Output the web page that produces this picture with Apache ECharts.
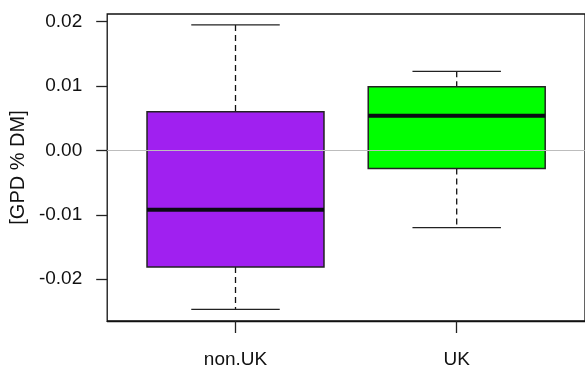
<!DOCTYPE html>
<html>
<head>
<meta charset="utf-8">
<script src="https://cdn.jsdelivr.net/npm/echarts@6/dist/echarts.min.js"></script>
<style>
  html, body { margin: 0; padding: 0; background: #fff; }
  #chart { width: 585px; height: 369px; }
</style>
</head>
<body>
<div id="chart"></div>
<script>
// Groups and their five-number summaries (lower whisker, Q1, median, Q3, upper whisker)
const groups = ['non.UK', 'UK'];
const lowerWhisker = [-0.0247, -0.0120];
const q1 = [-0.0181, -0.0028];
const median = [-0.0092, 0.0054];
const q3 = [0.0060, 0.0099];
const upperWhisker = [0.0195, 0.0123];
const fills = ['#A020F0', '#00FF00'];
const yTicks = [-0.02, -0.01, 0, 0.01, 0.02];
const xTicks = [1, 2];

const BOX_WIDTH = 0.8;   // in x-axis units
const CAP_WIDTH = 0.4;

const seriesData = groups.map((g, i) => [i + 1, lowerWhisker[i], q1[i], median[i], q3[i], upperWhisker[i]]);

function renderBox(params, api) {
  const x = api.value(0);
  const lo = api.value(1), a = api.value(2), m = api.value(3), b = api.value(4), hi = api.value(5);
  const pLeft = api.coord([x - BOX_WIDTH / 2, b]);
  const pRight = api.coord([x + BOX_WIDTH / 2, a]);
  const cL = api.coord([x - CAP_WIDTH / 2, 0])[0];
  const cR = api.coord([x + CAP_WIDTH / 2, 0])[0];
  const cx = api.coord([x, 0])[0];
  const yLo = api.coord([x, lo])[1];
  const yHi = api.coord([x, hi])[1];
  const yQ1 = pRight[1], yQ3 = pLeft[1];
  const yMed = api.coord([x, m])[1];
  const dash = { stroke: '#111', lineWidth: 1.3, lineDash: [6, 4] };
  const solid = { stroke: '#222', lineWidth: 1.3 };
  return {
    type: 'group',
    children: [
      { type: 'line', shape: { x1: cx, y1: yHi, x2: cx, y2: yQ3 }, style: dash },
      { type: 'line', shape: { x1: cx, y1: yQ1, x2: cx, y2: yLo }, style: dash },
      { type: 'line', shape: { x1: cL, y1: yHi, x2: cR, y2: yHi }, style: solid },
      { type: 'line', shape: { x1: cL, y1: yLo, x2: cR, y2: yLo }, style: solid },
      { type: 'rect', shape: { x: pLeft[0], y: yQ3, width: pRight[0] - pLeft[0], height: yQ1 - yQ3 },
        style: { fill: fills[params.dataIndex], stroke: '#222', lineWidth: 1.5 } },
      { type: 'line', shape: { x1: pLeft[0], y1: yMed, x2: pRight[0], y2: yMed },
        style: { stroke: '#0a0a14', lineWidth: 4 } }
    ]
  };
}

const font = 'Liberation Sans, Arial, sans-serif';
const chart = echarts.init(document.getElementById('chart'), null, { renderer: 'canvas' });
chart.setOption({
  animation: false,
  backgroundColor: '#ffffff',
  grid: {
    left: 105, right: -3, top: 14, bottom: 47,
    show: true, borderColor: '#111', borderWidth: 1.3, backgroundColor: 'transparent'
  },
  xAxis: {
    type: 'value',
    min: 0.42, max: 2.58,
    splitLine: { show: false },
    axisLine: { show: true, onZero: false, lineStyle: { color: '#111', width: 1.3 } },
    axisTick: { show: true, length: 12, customValues: xTicks, lineStyle: { color: '#222', width: 1.3 } },
    axisLabel: {
      customValues: xTicks,
      formatter: v => groups[Math.round(v) - 1] || '',
      margin: 29,
      fontFamily: font, fontSize: 19, color: '#111'
    }
  },
  yAxis: {
    type: 'value',
    min: -0.0265, max: 0.0212,
    name: '[GPD % DM]',
    nameLocation: 'middle',
    nameGap: 67,
    nameRotate: 90,
    nameTextStyle: { fontFamily: font, fontSize: 20, color: '#111' },
    splitLine: { show: false },
    axisLine: { show: false },
    axisTick: { show: true, length: 11, customValues: yTicks, lineStyle: { color: '#222', width: 1.3 } },
    axisLabel: {
      customValues: yTicks,
      formatter: v => v.toFixed(2),
      margin: 25,
      fontFamily: font, fontSize: 19, color: '#111'
    }
  },
  series: [
    {
      type: 'custom',
      renderItem: renderBox,
      data: seriesData,
      z: 2
    },
    {
      type: 'line',
      data: [],
      z: 5,
      markLine: {
        silent: true,
        symbol: ['none', 'none'],
        label: { show: false },
        lineStyle: { color: '#BDBDBD', width: 1.2, type: 'solid' },
        data: [{ yAxis: 0 }]
      }
    }
  ]
});
</script>
</body>
</html>
